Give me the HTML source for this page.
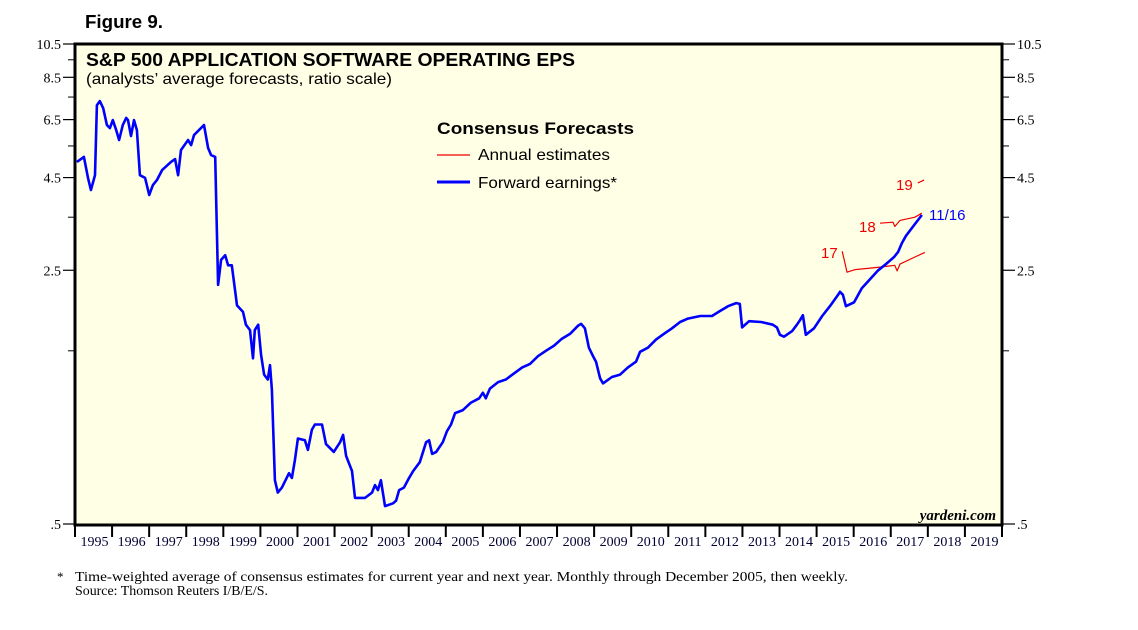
<!DOCTYPE html>
<html><head><meta charset="utf-8"><style>
body{margin:0;background:#fff;}
svg text{font-family:"Liberation Sans",sans-serif;}
.serif{font-family:"Liberation Serif",serif;}
</style></head><body>
<svg id="chart" width="1138" height="625" xmlns="http://www.w3.org/2000/svg">
<text x="85" y="28" font-size="18" font-weight="bold" textLength="78" lengthAdjust="spacingAndGlyphs">Figure 9.</text>
<rect x="75" y="44" width="927" height="481" fill="#FFFFE6" stroke="#000" stroke-width="3"/>
<text x="86" y="66" font-size="18" font-weight="bold" textLength="489" lengthAdjust="spacingAndGlyphs">S&amp;P 500 APPLICATION SOFTWARE OPERATING EPS</text>
<text x="86" y="84" font-size="16" textLength="306" lengthAdjust="spacingAndGlyphs">(analysts’ average forecasts, ratio scale)</text>
<g id="axes"></g>
<g id="series"></g>
<text x="437" y="134" font-size="17" font-weight="bold" textLength="197" lengthAdjust="spacingAndGlyphs">Consensus Forecasts</text>
<line x1="437" y1="155" x2="470" y2="155" stroke="#e00" stroke-width="1.2"/>
<text x="478" y="160" font-size="16" textLength="132" lengthAdjust="spacingAndGlyphs">Annual estimates</text>
<line x1="437" y1="182" x2="470" y2="182" stroke="#00f" stroke-width="3"/>
<text x="478" y="188" font-size="16" textLength="139" lengthAdjust="spacingAndGlyphs">Forward earnings*</text>
<text x="896" y="190" font-size="15" fill="#e00">19</text>
<text x="859" y="232" font-size="15" fill="#e00">18</text>
<text x="821" y="258" font-size="15" fill="#e00">17</text>
<text x="929" y="220" font-size="15" fill="#00f">11/16</text>
<text x="996" y="520" font-size="15" font-weight="bold" font-style="italic" text-anchor="end" class="serif">yardeni.com</text>
<text x="57" y="581" font-size="13" class="serif">*</text>
<text x="75" y="581" font-size="14" class="serif" textLength="773" lengthAdjust="spacingAndGlyphs">Time-weighted average of consensus estimates for current year and next year. Monthly through December 2005, then weekly.</text>
<text x="75" y="595" font-size="14" class="serif" textLength="193" lengthAdjust="spacingAndGlyphs">Source: Thomson Reuters I/B/E/S.</text>
</svg>
<script>
const yTicks=[10.5,8.5,6.5,4.5,2.5,0.5];
const yTickLabels=["10.5","8.5","6.5","4.5","2.5",".5"];
const yMinor=[9.5,7.5,5.5,3.5,1.5];
const years=[1995,1996,1997,1998,1999,2000,2001,2002,2003,2004,2005,2006,2007,2008,2009,2010,2011,2012,2013,2014,2015,2016,2017,2018,2019];
const fwdDates=[1995.05,1995.24,1995.35,1995.43,1995.54,1995.59,1995.67,1995.76,1995.86,1995.94,1996.02,1996.11,1996.19,1996.29,1996.38,1996.43,1996.51,1996.59,1996.67,1996.75,1996.89,1997.0,1997.1,1997.21,1997.35,1997.59,1997.7,1997.78,1997.86,1998.05,1998.13,1998.21,1998.48,1998.59,1998.67,1998.78,1998.86,1998.94,1999.05,1999.13,1999.23,1999.31,1999.37,1999.53,1999.61,1999.72,1999.8,1999.85,1999.94,2000.02,2000.1,2000.2,2000.26,2000.31,2000.39,2000.47,2000.58,2000.77,2000.85,2000.93,2001.01,2001.2,2001.28,2001.39,2001.47,2001.66,2001.77,2001.98,2002.15,2002.23,2002.31,2002.47,2002.55,2002.82,2003.01,2003.09,2003.17,2003.25,2003.36,2003.58,2003.66,2003.74,2003.87,2004.01,2004.12,2004.3,2004.47,2004.55,2004.63,2004.74,2004.92,2005.03,2005.14,2005.25,2005.46,2005.68,2005.9,2006.0,2006.08,2006.19,2006.41,2006.62,2006.84,2007.06,2007.27,2007.49,2007.7,2007.92,2008.13,2008.35,2008.57,2008.65,2008.75,2008.86,2008.97,2009.05,2009.16,2009.24,2009.48,2009.7,2009.91,2010.13,2010.24,2010.45,2010.67,2010.88,2011.1,2011.32,2011.53,2011.86,2012.18,2012.39,2012.61,2012.83,2012.93,2012.99,2013.18,2013.5,2013.82,2013.93,2014.01,2014.12,2014.34,2014.47,2014.55,2014.63,2014.71,2014.93,2015.15,2015.36,2015.58,2015.63,2015.71,2015.79,2016.01,2016.22,2016.44,2016.66,2016.87,2017.09,2017.2,2017.3,2017.41,2017.63,2017.84];
const fwdValues=[4.97,5.13,4.49,4.16,4.57,7.12,7.31,6.99,6.28,6.16,6.48,6.08,5.71,6.28,6.57,6.48,5.86,6.48,6.08,4.57,4.49,4.03,4.29,4.43,4.72,4.97,5.06,4.57,5.36,5.71,5.53,5.89,6.28,5.43,5.19,5.13,2.28,2.67,2.75,2.58,2.58,2.23,2.0,1.92,1.77,1.71,1.43,1.71,1.77,1.46,1.29,1.25,1.37,1.17,0.66,0.61,0.63,0.69,0.67,0.75,0.86,0.85,0.8,0.91,0.94,0.94,0.83,0.79,0.84,0.88,0.77,0.7,0.59,0.59,0.61,0.64,0.62,0.66,0.56,0.57,0.58,0.62,0.63,0.67,0.7,0.74,0.84,0.85,0.78,0.79,0.84,0.9,0.94,1.01,1.03,1.08,1.11,1.15,1.11,1.18,1.23,1.25,1.3,1.35,1.38,1.45,1.5,1.55,1.62,1.67,1.76,1.78,1.73,1.53,1.45,1.4,1.26,1.22,1.27,1.29,1.35,1.4,1.49,1.53,1.61,1.67,1.73,1.8,1.84,1.87,1.87,1.93,1.99,2.03,2.02,1.74,1.81,1.8,1.77,1.74,1.66,1.64,1.7,1.77,1.82,1.88,1.66,1.73,1.87,1.99,2.14,2.18,2.14,1.99,2.04,2.23,2.36,2.5,2.6,2.72,2.81,2.97,3.11,3.33,3.55];
const est17Dates=[2015.69,2015.77,2015.82,2016.04,2016.71,2017.11,2017.17,2017.25,2017.65,2017.92];
const est17Values=[2.82,2.6,2.47,2.51,2.55,2.58,2.49,2.6,2.72,2.8];
const est18Dates=[2016.71,2017.06,2017.11,2017.25,2017.65,2017.84];
const est18Values=[3.37,3.39,3.3,3.43,3.5,3.59];
const est19Dates=[2017.73,2017.9];
const est19Values=[4.35,4.43];

const NS="http://www.w3.org/2000/svg";
const L=75,R=1002,T=44,B=524;
function xs(t){return L+(t-1995)*(R-L)/25;}
function ys(v){return B-Math.log(v/0.5)/Math.log(10.5/0.5)*(B-T);}
function mk(tag,attrs,parent){const e=document.createElementNS(NS,tag);for(const k in attrs)e.setAttribute(k,attrs[k]);parent.appendChild(e);return e;}
const ax=document.getElementById('axes');
yTicks.forEach((v,i)=>{
  const y=ys(v);
  const l1=mk('line',{x1:63,x2:L,y1:y,y2:y,stroke:'#000','stroke-width':1.2},ax);
  
  
  const l2=mk('line',{x1:R,x2:1015,y1:y,y2:y,stroke:'#000','stroke-width':1.2},ax);
  
  
  const t1=mk('text',{x:61,y:y+5,'font-size':14,'text-anchor':'end','class':'serif'},ax);
  t1.textContent=yTickLabels[i];
  
  
  const t2=mk('text',{x:1017,y:y+5,'font-size':14,'class':'serif'},ax);
  t2.textContent=yTickLabels[i];
  
  
});
yMinor.forEach(v=>{
  const y=ys(v);
  const a=mk('line',{x1:68,x2:L,y1:y,y2:y,stroke:'#000','stroke-width':1},ax);
  
  
  const b=mk('line',{x1:R,x2:1009,y1:y,y2:y,stroke:'#000','stroke-width':1},ax);
  
  
});
years.forEach(yr=>{
  const x=xs(yr);
  const tk=mk('line',{x1:x,x2:x,y1:B,y2:B+13,stroke:'#000','stroke-width':2},ax);
  
  
  const t=mk('text',{x:x+(xs(yr+1)-x)/2+1,y:B+22,'font-size':14,'text-anchor':'middle','class':'serif','fill':'#000033'},ax);
  t.textContent=yr;
  
  
});
const lastTk=mk('line',{x1:xs(2020),x2:xs(2020),y1:B,y2:B+13,stroke:'#000','stroke-width':2},ax);


const sg=document.getElementById('series');
function line(d,v,color,w,name){
  const pts=d.map((t,i)=>xs(t).toFixed(1)+','+ys(v[i]).toFixed(1)).join(' ');
  const p=mk('polyline',{points:pts,fill:'none',stroke:color,'stroke-width':w,'stroke-linejoin':'round'},sg);
  
  
}
line(est17Dates,est17Values,'#e00',1.2,'annual-estimate-2017');
line(est18Dates,est18Values,'#e00',1.2,'annual-estimate-2018');
line(est19Dates,est19Values,'#e00',1.2,'annual-estimate-2019');
line(fwdDates,fwdValues,'#0000ff',2.6,'forward-earnings-line');
</script>
</body></html>
